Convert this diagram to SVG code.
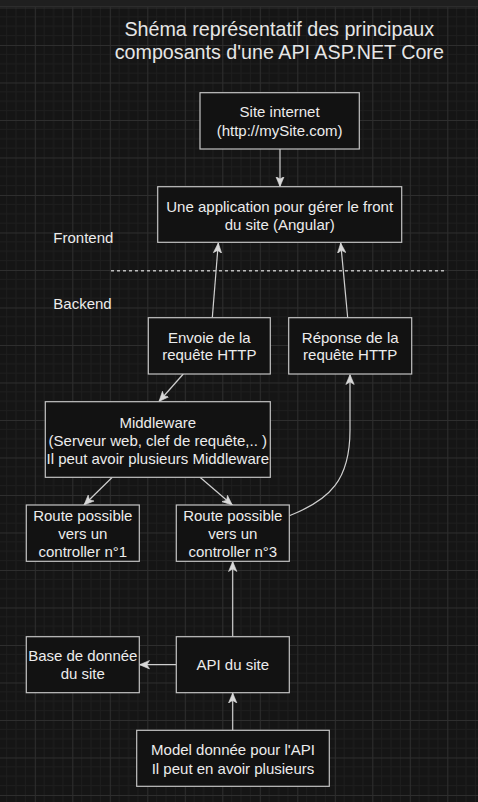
<svg xmlns="http://www.w3.org/2000/svg" width="478" height="802" viewBox="0 0 478 802">
<defs>
<pattern id="grid" x="34.8" y="45" width="37.5" height="37.5" patternUnits="userSpaceOnUse">
<rect width="37.5" height="37.5" fill="#151515"/>
<path d="M9.375,0V37.5M18.75,0V37.5M28.125,0V37.5M0,9.375H37.5M0,18.75H37.5M0,28.125H37.5" stroke="#1e1e1e" stroke-width="1" fill="none"/>
<path d="M0.5,0V37.5M0,0.5H37.5" stroke="#2e2e2e" stroke-width="1" fill="none"/>
</pattern>
<marker id="arr" viewBox="0 0 10 10" refX="10" refY="5" markerWidth="10" markerHeight="10" markerUnits="userSpaceOnUse" orient="auto">
<path d="M10,5 L0,0.8 L2.6,5 L0,9.2 Z" fill="#d8d8d8" stroke="#d8d8d8" stroke-width="0.6" stroke-linejoin="miter"/>
</marker>
</defs>
<style>
.box{fill:#121212;stroke:#c4c4c4;stroke-width:1.2}
.t{font-family:"Liberation Sans",Arial,sans-serif;font-size:15px;fill:#ececec;text-anchor:middle}
.lbl{font-family:"Liberation Sans",Arial,sans-serif;font-size:15px;fill:#ececec}
.title{font-family:"Liberation Sans",Arial,sans-serif;font-size:19.7px;fill:#e6e6e6;text-anchor:middle}
.e{fill:none;stroke:#cfcfcf;stroke-width:1.2;marker-end:url(#arr)}
</style>
<rect width="478" height="802" fill="url(#grid)"/>
<rect width="478" height="6" fill="#1f1f1f"/>
<line x1="0" y1="6.5" x2="478" y2="6.5" stroke="#2c2c2c" stroke-width="1"/>

<g id="title">
<text class="title" x="279.3" y="36">Shéma représentatif des principaux</text>
<text class="title" x="279.3" y="58.7">composants d'une API ASP.NET Core</text>
</g>

<g id="labels">
<text class="lbl" x="53.3" y="243.3">Frontend</text>
<text class="lbl" x="53.3" y="308.6">Backend</text>
<line x1="111" y1="270.7" x2="446.7" y2="270.7" stroke="#bdbdbd" stroke-width="1.5" stroke-dasharray="3 3"/>
</g>

<g id="connectors">
<path class="e" d="M280,149 L280,186.5"/>
<path class="e" d="M212.3,317.7 L218.3,243"/>
<path class="e" d="M347.7,317.7 L340.7,243"/>
<path class="e" d="M183.3,374 L159,401.5"/>
<path class="e" d="M112.3,477.3 L84,505"/>
<path class="e" d="M200,477.3 L232.3,505"/>
<path class="e" d="M289.3,515.7 C330,500 350,480 350,430 L350,374.5"/>
<path class="e" d="M232.7,636.5 L232.7,561.5"/>
<path class="e" d="M176.3,664.7 L139.5,664.7"/>
<path class="e" d="M232.7,730.3 L232.7,693"/>
</g>

<g id="site">
<rect class="box" x="200" y="92.7" width="159.3" height="56.3"/>
<text class="t" x="279.6" y="117.3">Site internet</text>
<text class="t" x="279.6" y="136">(http://mySite.com)</text>
</g>
<g id="app">
<rect class="box" x="157.7" y="186.7" width="244" height="55.6"/>
<text class="t" x="279.7" y="212">Une application pour gérer le front</text>
<text class="t" x="279.7" y="229.6">du site (Angular)</text>
</g>
<g id="envoie">
<rect class="box" x="148.3" y="317.7" width="122" height="56.3"/>
<text class="t" x="209.3" y="342.6">Envoie de la</text>
<text class="t" x="209.3" y="360.3">requête HTTP</text>
</g>
<g id="reponse">
<rect class="box" x="288.7" y="317.7" width="123" height="56.3"/>
<text class="t" x="350.2" y="342.6">Réponse de la</text>
<text class="t" x="350.2" y="360.3">requête HTTP</text>
</g>
<g id="middleware">
<rect class="box" x="45.3" y="401.7" width="225" height="75.6"/>
<text class="t" x="157.8" y="427.5">Middleware</text>
<text class="t" x="157.8" y="445.5">(Serveur web, clef de requête,.. )</text>
<text class="t" x="157.8" y="463.5">Il peut avoir plusieurs Middleware</text>
</g>
<g id="route1">
<rect class="box" x="26.3" y="505" width="113" height="56.3"/>
<text class="t" x="82.8" y="521">Route possible</text>
<text class="t" x="82.8" y="539.3">vers un</text>
<text class="t" x="82.8" y="557">controller n°1</text>
</g>
<g id="route3">
<rect class="box" x="176.3" y="505" width="113" height="56.3"/>
<text class="t" x="232.8" y="521">Route possible</text>
<text class="t" x="232.8" y="539.3">vers un</text>
<text class="t" x="232.8" y="557">controller n°3</text>
</g>
<g id="base">
<rect class="box" x="26.3" y="636.7" width="113" height="56"/>
<text class="t" x="82.8" y="661.3">Base de donnée</text>
<text class="t" x="82.8" y="679.3">du site</text>
</g>
<g id="api">
<rect class="box" x="176.3" y="636.7" width="113" height="56"/>
<text class="t" x="232.8" y="670.3">API du site</text>
</g>
<g id="model">
<rect class="box" x="136.7" y="730.3" width="192.6" height="56"/>
<text class="t" x="233" y="755.3">Model donnée pour l'API</text>
<text class="t" x="233" y="773.6">Il peut en avoir plusieurs</text>
</g>
</svg>
